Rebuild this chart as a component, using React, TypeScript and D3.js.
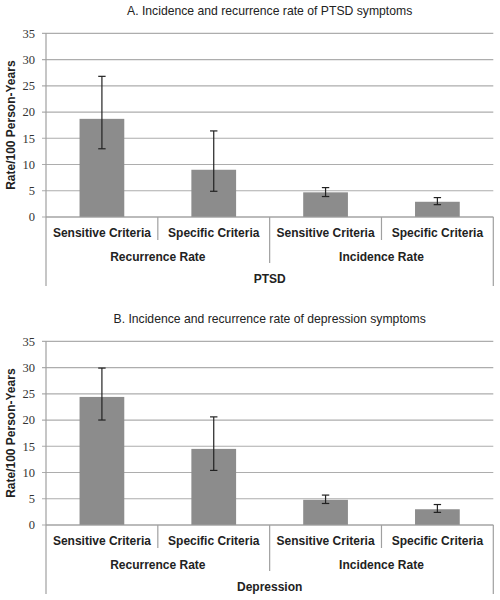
import React from "react";
import * as d3 from "d3";

const categories = ["Sensitive Criteria", "Specific Criteria", "Sensitive Criteria", "Specific Criteria"];
const groups = ["Recurrence Rate", "Incidence Rate"];
const yTicks = [0, 5, 10, 15, 20, 25, 30, 35];

const ptsdValues = [18.7, 9.0, 4.7, 2.9];
const ptsdLow = [13.0, 4.9, 3.9, 2.35];
const ptsdHigh = [26.8, 16.4, 5.6, 3.7];

const depValues = [24.4, 14.5, 4.8, 3.0];
const depLow = [20.0, 10.4, 4.1, 2.4];
const depHigh = [29.9, 20.6, 5.7, 3.9];

const W = 500;
const H = 600;
const left = 46;
const right = 493.3;
const top = 33.3;
const bottom = 217;

const sans = "'Liberation Sans', Arial, sans-serif";
const serif = "'Liberation Serif', 'Times New Roman', serif";

function Panel({ oy, title, outer, values, low, high }: any) {
  const x = d3.scaleBand<number>().domain(d3.range(categories.length)).range([left, right]).paddingInner(0).paddingOuter(0);
  const y = d3.scaleLinear().domain([0, 35]).range([bottom, top]);
  const bw = x.bandwidth();
  const barW = bw * 0.4;
  const gridColor = "#adadad";
  const lineColor = "#a0a0a0";
  return (
    <g transform={`translate(0,${oy})`}>
      <text x={(left + right) / 2} y={15} textAnchor="middle" fontFamily={sans} fontSize={12.2} fill="#222">
        {title}
      </text>
      {yTicks.map((t) => (
        <g key={t}>
          <line x1={left - 4} x2={right} y1={y(t)} y2={y(t)} stroke={gridColor} strokeWidth={1.2} />
          <text x={35} y={y(t) + 4.3} textAnchor="end" fontFamily={serif} fontSize={12.5} fill="#333">
            {t}
          </text>
        </g>
      ))}
      <text
        transform={`translate(15,${(top + bottom) / 2}) rotate(-90)`}
        textAnchor="middle"
        fontFamily={sans}
        fontWeight="bold"
        fontSize={12}
        fill="#222"
      >
        Rate/100 Person-Years
      </text>
      {values.map((v: number, i: number) => {
        const cx = (x(i) as number) + bw / 2;
        return (
          <g key={i}>
            <rect x={cx - barW / 2} y={y(v)} width={barW} height={y(0) - y(v)} fill="#8c8c8c" />
            <line x1={cx} x2={cx} y1={y(high[i])} y2={y(low[i])} stroke="#222" strokeWidth={1.2} />
            <line x1={cx - 3.7} x2={cx + 3.7} y1={y(high[i])} y2={y(high[i])} stroke="#222" strokeWidth={1.2} />
            <line x1={cx - 3.7} x2={cx + 3.7} y1={y(low[i])} y2={y(low[i])} stroke="#222" strokeWidth={1.2} />
          </g>
        );
      })}
      <line x1={left} x2={left} y1={top} y2={286} stroke={lineColor} strokeWidth={1.2} />
      <line x1={right} x2={right} y1={bottom} y2={286} stroke={lineColor} strokeWidth={1.2} />
      <line x1={left} x2={right} y1={bottom} y2={bottom} stroke={lineColor} strokeWidth={1.2} />
      {[1, 3].map((i) => (
        <line key={i} x1={x(i) as number} x2={x(i) as number} y1={bottom} y2={240} stroke={lineColor} strokeWidth={1.2} />
      ))}
      <line x1={x(2) as number} x2={x(2) as number} y1={bottom} y2={263} stroke={lineColor} strokeWidth={1.2} />
      {categories.map((c, i) => (
        <text key={i} x={(x(i) as number) + bw / 2} y={237} textAnchor="middle" fontFamily={sans} fontWeight="bold" fontSize={12} fill="#222">
          {c}
        </text>
      ))}
      {groups.map((g, gi) => (
        <text key={g} x={(x(gi * 2) as number) + bw} y={260.5} textAnchor="middle" fontFamily={sans} fontWeight="bold" fontSize={12} fill="#222">
          {g}
        </text>
      ))}
      <text x={(left + right) / 2} y={283} textAnchor="middle" fontFamily={sans} fontWeight="bold" fontSize={12} fill="#222">
        {outer}
      </text>
    </g>
  );
}

export default function App() {
  return (
    <svg width={W} height={H} style={{ position: "absolute", left: 0, top: 0, background: "#fff" }}>
      <Panel oy={0} title="A. Incidence and recurrence rate of PTSD symptoms" outer="PTSD" values={ptsdValues} low={ptsdLow} high={ptsdHigh} />
      <Panel oy={308} title="B. Incidence and recurrence rate of depression symptoms" outer="Depression" values={depValues} low={depLow} high={depHigh} />
    </svg>
  );
}
